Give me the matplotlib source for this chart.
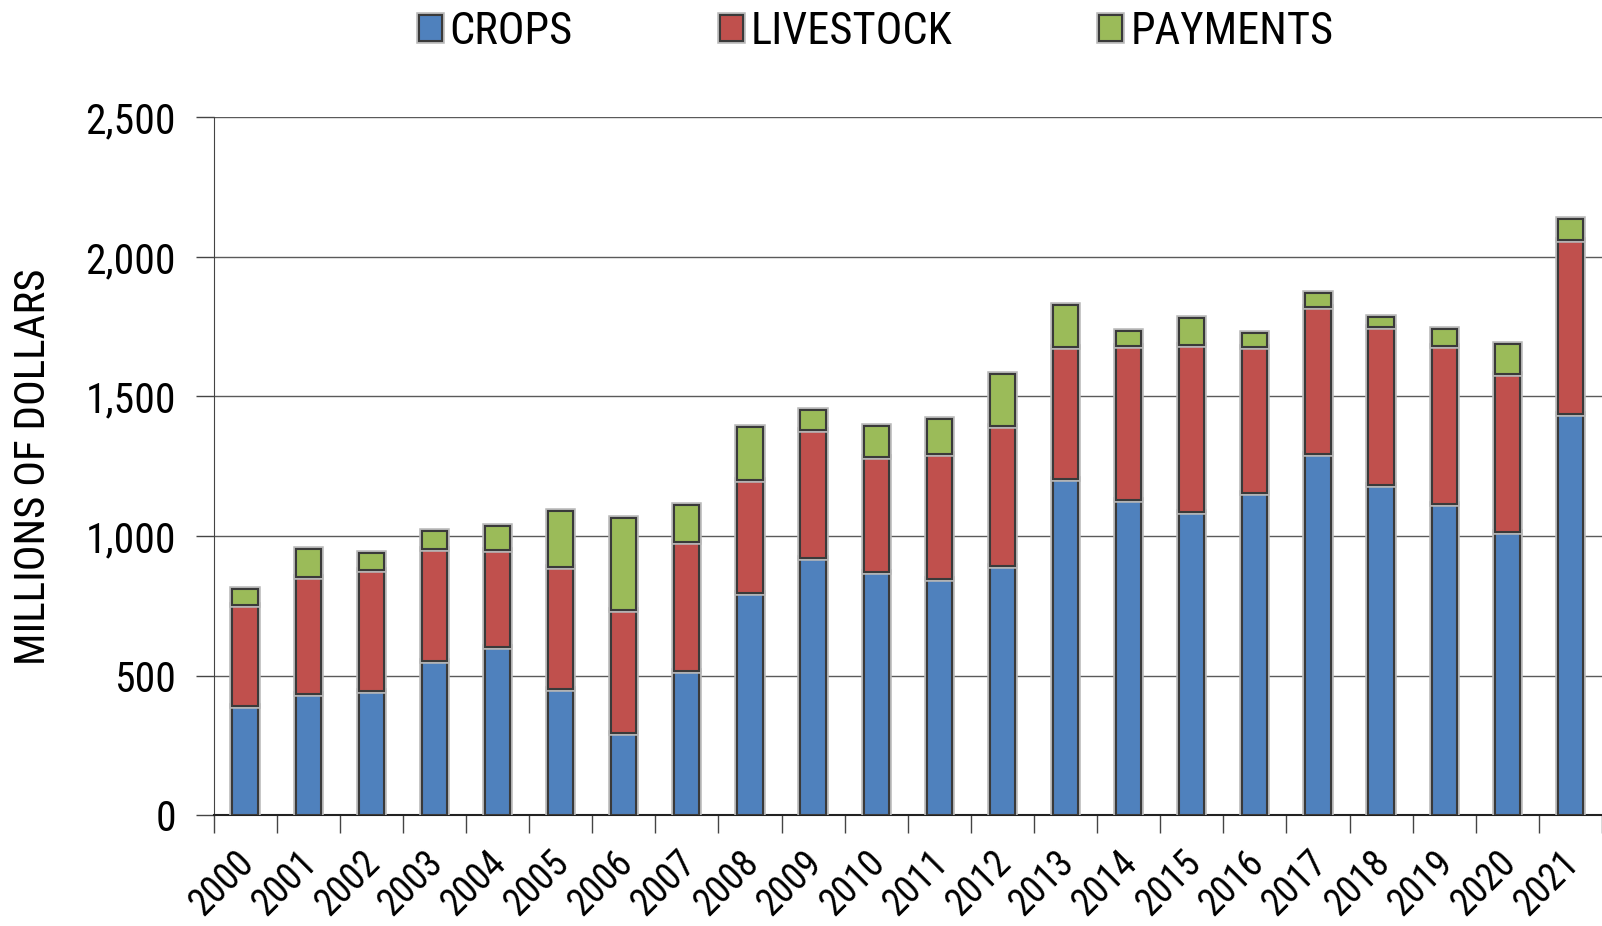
#!/usr/bin/env python3
"""
Farm cash receipts by source, 2000-2021 (stacked bars).
"""

import numpy as np
import matplotlib
matplotlib.use('Agg')
import matplotlib.pyplot as plt
import matplotlib.patheffects as pe
from matplotlib import font_manager

# Values (millions of dollars)
years = [str(y) for y in range(2000, 2022)]
crops = [392, 434, 446, 554, 602, 452, 295, 518, 795, 920, 870,
         846, 894, 1206, 1130, 1088, 1154, 1293, 1184, 1114, 1014, 1437]
livestock_top = [753, 853, 877, 955, 949, 888, 734, 980, 1201, 1380, 1283,
                 1295, 1396, 1676, 1680, 1686, 1679, 1820, 1749, 1680, 1582, 2061]
total_top = [810, 953, 940, 1019, 1037, 1091, 1064, 1111, 1389, 1452, 1394,
             1419, 1580, 1827, 1736, 1780, 1728, 1872, 1784, 1741, 1689, 2134]

livestock = [t - c for t, c in zip(livestock_top, crops)]
payments = [t - l for t, l in zip(total_top, livestock_top)]

series_names = ['CROPS', 'LIVESTOCK', 'PAYMENTS']
colors = ['#4F81BD', '#C0504D', '#9BBB59']
yticks = [0, 500, 1000, 1500, 2000, 2500]

# the original uses a narrow sans; fall back to a smaller regular one
installed = {f.name for f in font_manager.fontManager.ttflist}
narrow = next((n for n in ['Liberation Sans Narrow', 'Arial Narrow', 'Roboto Condensed']
               if n in installed), None)
if narrow:
    plt.rcParams['font.family'] = [narrow, 'Liberation Sans', 'DejaVu Sans']
    k = 1.0
else:
    plt.rcParams['font.family'] = ['Liberation Sans', 'DejaVu Sans']
    k = 0.85

W, H = 1602, 926
fig = plt.figure(figsize=(W / 100, H / 100), dpi=100)
ax = fig.add_axes([213.5 / W, 1 - 815.3 / H, 1 - 213.5 / W, (815.3 - 117.3) / H])

x = np.arange(len(years))
shadow = [pe.Stroke(linewidth=4, foreground='#b8b8b8'), pe.Normal()]
bottom = np.zeros(len(years))
for name, vals, col in zip(series_names, [crops, livestock, payments], colors):
    bars = ax.bar(x, vals, 0.40, bottom=bottom, color=col, edgecolor='#3a3a3a',
                  linewidth=1.5, label=name, zorder=3)
    for b in bars:
        b.set_path_effects(shadow)
    bottom += np.array(vals)

ax.set_xlim(-0.5, len(years) - 0.5)
ax.set_ylim(0, 2500)
ax.set_yticks(yticks)
ax.set_yticklabels([f'{v:,}' for v in yticks], fontsize=30 * k)
ax.yaxis.grid(True, color='#5a5a5a', linewidth=1.0, zorder=0)
ax.set_axisbelow(True)

# category ticks sit between the bars; labels hang just left of each bar
ax.set_xticks(np.arange(len(years) + 1) - 0.5)
ax.set_xticklabels([])
ax.set_xticks(x - 0.16, minor=True)
ax.set_xticklabels(years, minor=True, rotation=45, ha='right', va='top',
                   rotation_mode='anchor', fontsize=27 * k)
ax.tick_params(axis='x', which='major', length=13, width=1.0, color='#444444',
               direction='out')
ax.tick_params(axis='x', which='minor', length=0, pad=21)
ax.tick_params(axis='y', length=13, width=1.0, color='#444444', pad=14)

for s in ['top', 'right']:
    ax.spines[s].set_visible(False)
ax.spines['left'].set_color('#444444')
ax.spines['bottom'].set_color('#222222')
ax.spines['bottom'].set_linewidth(1.5)

ax.set_ylabel('MILLIONS OF DOLLARS', fontsize=31 * k, labelpad=23)

leg_fs = 32 * k
sq = 23 / (leg_fs * 100 / 72)
fig.legend(loc='center', bbox_to_anchor=(876 / W, 1 - 32 / H), ncol=3,
           frameon=False, fontsize=leg_fs, handlelength=sq, handleheight=sq,
           handletextpad=0.18, columnspacing=3.3)

fig.savefig('out.png', dpi=100)
